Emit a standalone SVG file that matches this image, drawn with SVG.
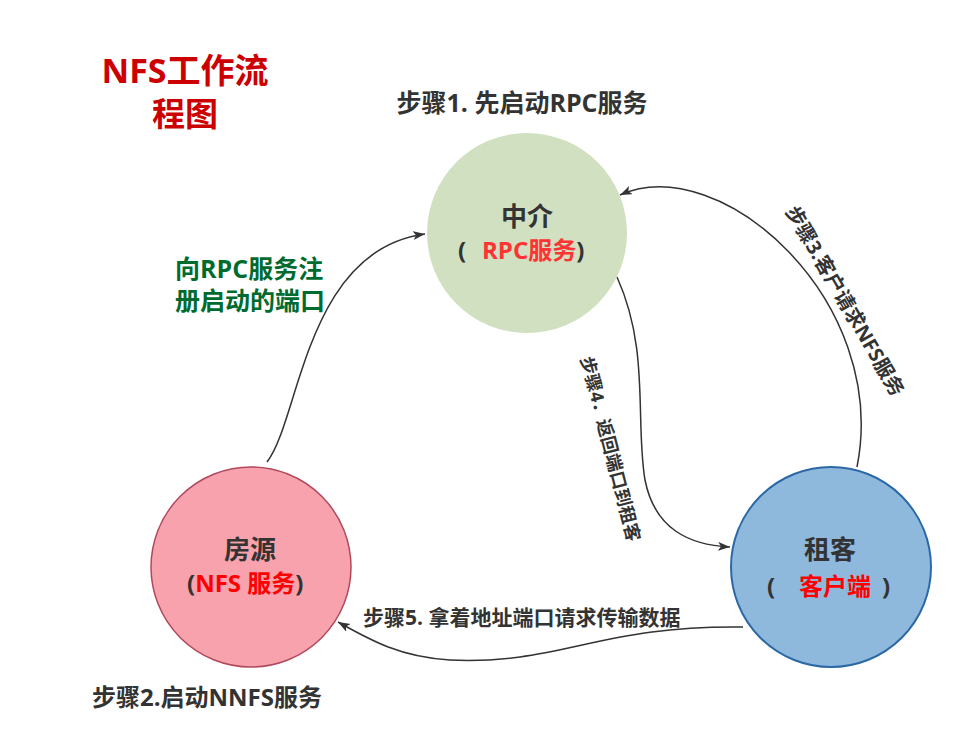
<svg xmlns="http://www.w3.org/2000/svg" width="963" height="754" viewBox="0 0 963 754">
<style>
text{font-family:"Open Sans","Noto Sans CJK SC",sans-serif;font-weight:bold}
.dk{fill:#333333}
.red{fill:#ff0000}
.edge{fill:none;stroke:#333333;stroke-width:1.5}
</style>
<defs>
<marker id="ah" markerUnits="userSpaceOnUse" markerWidth="14" markerHeight="10" refX="12" refY="4.5" orient="auto">
<path d="M0,0 L12,4.5 L0,9 L3,4.5 Z" fill="#333333"/>
</marker>
</defs>
<rect width="963" height="754" fill="#ffffff"/>
<g id="title">
<text x="185" y="83" font-size="34" fill="#cc0000" text-anchor="middle">NFS工作流</text>
<text x="185" y="126" font-size="33" fill="#cc0000" text-anchor="middle">程图</text>
</g>
<g id="step1"><text x="522" y="112" font-size="25" class="dk" text-anchor="middle">步骤1. 先启动RPC服务</text></g>
<g id="step2"><text x="207" y="706" font-size="24" class="dk" text-anchor="middle">步骤2.启动NNFS服务</text></g>
<g id="connectors">
<path class="edge" d="M267,462 C300,420 305,250 425,234" marker-end="url(#ah)"/>
<path class="edge" d="M857,467 C890,300 720,150 620,195" marker-end="url(#ah)"/>
<path class="edge" d="M617,277 C650,350 635,420 645,480 C655,530 690,545 730,547" marker-end="url(#ah)"/>
<path class="edge" d="M743,627 C600,625 560,665 450,660 C400,657 370,640 338,622" marker-end="url(#ah)"/>
</g>
<g id="labels">
<text font-size="25" fill="#006b2e"><tspan x="175" y="278">向RPC服务注</tspan><tspan x="175" y="310">册启动的端口</tspan></text>
<g transform="translate(845,301) rotate(60)"><text x="0" y="7" font-size="20" class="dk" text-anchor="middle">步骤3.客户请求NFS服务</text></g>
<g transform="translate(610,449) rotate(75.5)"><text x="0" y="6" font-size="18" class="dk" text-anchor="middle">步骤4．返回端口到租客</text></g>
<text x="363" y="625" font-size="21" class="dk">步骤5. 拿着地址端口请求传输数据</text>
</g>
<g id="rpc">
<circle cx="527" cy="233" r="100" fill="#d1e0c0"/>
<text x="527" y="226" font-size="26" class="dk" text-anchor="middle">中介</text>
<text y="259" font-size="24"><tspan x="458" class="dk">(</tspan><tspan x="482" fill="#ff3333">RPC服务</tspan><tspan class="dk">)</tspan></text>
</g>
<g id="nfs">
<circle cx="251" cy="567" r="100" fill="#f8a2ad" stroke="#b0495c" stroke-width="1.5"/>
<text x="250" y="559" font-size="26" class="dk" text-anchor="middle">房源</text>
<text y="592" font-size="24"><tspan x="187" class="dk">(</tspan><tspan class="red">NFS 服务</tspan><tspan class="dk">)</tspan></text>
</g>
<g id="client">
<circle cx="831" cy="567" r="100" fill="#8fb8dd" stroke="#2a69a6" stroke-width="2"/>
<text x="830" y="559" font-size="26" class="dk" text-anchor="middle">租客</text>
<text y="595" font-size="24"><tspan x="767" class="dk">(</tspan><tspan x="799" class="red">客户端</tspan><tspan x="882" class="dk">)</tspan></text>
</g>
</svg>
